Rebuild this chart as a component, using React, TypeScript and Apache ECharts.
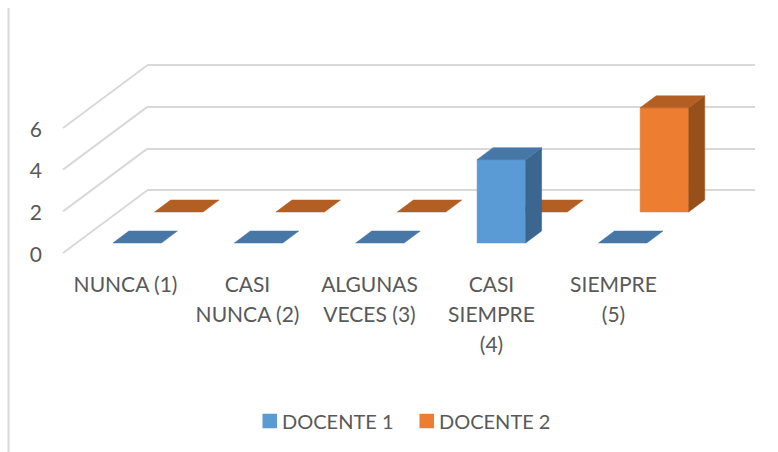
import React, { useEffect, useRef } from "react";
import * as echarts from "echarts";

const categories = ["NUNCA (1)", "CASI\nNUNCA (2)", "ALGUNAS\nVECES (3)", "CASI\nSIEMPRE\n(4)", "SIEMPRE\n(5)"];
const docente1 = [0, 0, 0, 4, 0];
const docente2 = [0, 0, 0, 0, 5];
const yTicks = [0, 2, 4, 6];

const FONT = "Lato";
const TEXT = "#595959";
const GRID = "#d9d9d9";
const WALL_DX = 84;
const WALL_DY = 62.5;

function barRenderer(depthFraction: number, colors: { front: string; top: string; side: string }) {
  return (params: any, api: any) => {
    const cat = api.value(0);
    const val = api.value(1);
    const band = api.size([1, 0])[0];
    const w = band * 0.4;
    const dx = 16;
    const dy = 12;
    const ox = depthFraction * WALL_DX;
    const oy = depthFraction * WALL_DY;
    const base = api.coord([cat, 0]);
    const head = api.coord([cat, val]);
    const x0 = base[0] + ox - w / 2;
    const x1 = x0 + w;
    const yb = base[1] - oy;
    const yt = head[1] - oy;
    const poly = (points: number[][], fill: string) => ({
      type: "polygon",
      shape: { points },
      style: { fill, stroke: fill, lineWidth: 0.5 },
    });
    const children: any[] = [];
    if (val > 0) {
      children.push(poly([[x0, yb], [x1, yb], [x1, yt], [x0, yt]], colors.front));
      children.push(poly([[x1, yb], [x1 + dx, yb - dy], [x1 + dx, yt - dy], [x1, yt]], colors.side));
    }
    children.push(poly([[x0, yt], [x1, yt], [x1 + dx, yt - dy], [x0 + dx, yt - dy]], colors.top));
    return { type: "group", children };
  };
}

export default function App() {
  const ref = useRef<HTMLDivElement>(null);
  useEffect(() => {
    const chart = echarts.init(ref.current!, undefined, { renderer: "svg" });
    chart.setOption({
      animation: false,
      backgroundColor: "#ffffff",
      textStyle: { fontFamily: FONT },
      grid: [
        { left: 63, width: 607, top: 128, height: 125 },
        { left: 147, width: 608, top: 65, height: 125 },
        { left: 64.5, width: 610, top: 128, height: 125 },
      ],
      xAxis: [
        { type: "category", gridIndex: 0, data: categories, axisLine: { show: false }, axisTick: { show: false }, axisLabel: { show: false } },
        { type: "category", gridIndex: 1, data: categories, axisLine: { show: false }, axisTick: { show: false }, axisLabel: { show: false } },
        {
          type: "category",
          gridIndex: 2,
          data: categories,
          axisLine: { show: false },
          axisTick: { show: false },
          axisLabel: { interval: 0, color: TEXT, fontFamily: FONT, fontSize: 21, lineHeight: 30, margin: 15 },
        },
      ],
      yAxis: [
        {
          type: "value",
          gridIndex: 0,
          min: 0,
          max: 6,
          interval: 2,
          axisLine: { show: false },
          axisTick: { show: false },
          splitLine: { show: false },
          axisLabel: { color: TEXT, fontFamily: FONT, fontSize: 21, margin: 21, padding: [0, 0, 4, 0] },
        },
        {
          type: "value",
          gridIndex: 1,
          min: 0,
          max: 6,
          interval: 2,
          axisLine: { show: false },
          axisTick: { show: false },
          axisLabel: { show: false },
          splitLine: { show: true, lineStyle: { color: GRID, width: 2 } },
        },
        {
          type: "value",
          gridIndex: 2,
          min: 0,
          max: 6,
          interval: 2,
          axisLine: { show: false },
          axisTick: { show: false },
          axisLabel: { show: false },
          splitLine: { show: false },
        },
      ],
      legend: {
        left: 257.5,
        top: 406,
        icon: "rect",
        itemWidth: 14.5,
        itemHeight: 14.5,
        itemGap: 26,
        data: ["DOCENTE 1", "DOCENTE 2"],
        textStyle: { color: TEXT, fontFamily: FONT, fontSize: 20 },
      },
      graphic: [
        { type: "line", shape: { x1: 8.5, y1: 8, x2: 8.5, y2: 452 }, style: { stroke: GRID, lineWidth: 2 } },
      ],
      series: [
        {
          type: "custom",
          name: "walls",
          silent: true,
          coordinateSystem: "cartesian2d",
          xAxisIndex: 0,
          yAxisIndex: 0,
          data: yTicks.map((t) => [0, t]),
          renderItem: (params: any, api: any) => {
            const p = api.coord([0, api.value(1)]);
            const x = params.coordSys.x;
            return {
              type: "line",
              shape: { x1: x, y1: p[1], x2: x + WALL_DX, y2: p[1] - WALL_DY },
              style: { stroke: GRID, lineWidth: 2 },
            };
          },
        },
        {
          type: "custom",
          name: "DOCENTE 2",
          coordinateSystem: "cartesian2d",
          xAxisIndex: 0,
          yAxisIndex: 0,
          itemStyle: { color: "#ED7D31" },
          data: docente2.map((v, i) => [i, v]),
          renderItem: barRenderer(0.656, { front: "#ED7D31", top: "#B35E22", side: "#975019" }),
        },
        {
          type: "custom",
          name: "DOCENTE 1",
          coordinateSystem: "cartesian2d",
          xAxisIndex: 0,
          yAxisIndex: 0,
          itemStyle: { color: "#5B9BD5" },
          data: docente1.map((v, i) => [i, v]),
          renderItem: barRenderer(0.16, { front: "#5B9BD5", top: "#4677A6", side: "#3A668F" }),
        },
      ],
    });
    return () => chart.dispose();
  }, []);
  return <div ref={ref} style={{ position: "fixed", left: 0, top: 0, width: 778, height: 452 }} />;
}
